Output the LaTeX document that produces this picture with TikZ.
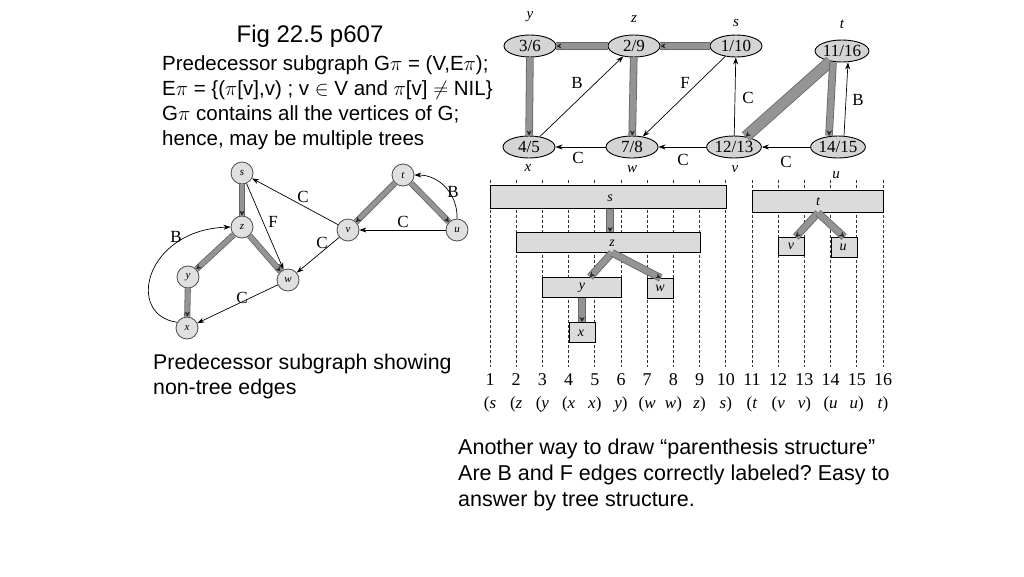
\documentclass[tikz,border=0pt]{standalone}
\usepackage{fontspec}
\setmainfont{Liberation Sans}
\newfontfamily\gs{Liberation Serif}
\usetikzlibrary{arrows.meta,shapes.geometric,calc}
\frenchspacing
\begin{document}
\begin{tikzpicture}[x=1pt,y=-1pt,
 txt/.style={anchor=base west, inner sep=0, font=\fontsize{20.5}{24}\selectfont},
 txtb/.style={anchor=base west, inner sep=0, font=\fontsize{21.5}{25}\selectfont},
 ell/.style={ellipse, draw=black, line width=0.9pt, fill=black!17, minimum width=52pt, minimum height=22pt, inner sep=0, font=\gs\fontsize{17}{17}\selectfont},
 vlab/.style={font=\gs\itshape\fontsize{15}{15}\selectfont, inner sep=0},
 elab/.style={font=\gs\fontsize{17}{17}\selectfont, inner sep=0},
 cir/.style={circle, draw=black!70, line width=0.8pt, fill=black!12, minimum size=22pt, inner sep=0, font=\gs\itshape\fontsize{11}{11}\selectfont},
 band/.style={draw=black!60, line width=0.8pt, double=black!42, double distance=#1},
 band/.default=6pt,
 bandtip/.style={draw=black!42, line width=0.3pt, -{Stealth[length=5pt,width=5pt,black!85]}},
 thin/.style={draw=black, line width=0.7pt, -{Stealth[length=7pt,width=5pt]}},
 bar/.style={draw=black, line width=0.8pt, fill=black!14, inner sep=0, anchor=north west},
 blab/.style={font=\gs\itshape\fontsize{14}{14}\selectfont, inner sep=0},
 gridline/.style={draw=black!80, line width=0.8pt, dash pattern=on 2.5pt off 2.5pt},
 num/.style={font=\gs\fontsize{18}{18}\selectfont, anchor=base, inner sep=0},
 par/.style={font=\gs\fontsize{17}{17}\selectfont, anchor=base, inner sep=0}]
\fill[white] (0,0) rectangle (1024,576);
\useasboundingbox (0,0) rectangle (1024,576);

% ---------- texts ----------
\node[anchor=base, inner sep=0, font=\fontsize{24}{28}\selectfont] (title) at (310,42) {Fig 22.5 p607};
\node[txt] (l1) at (162,70) {Predecessor subgraph G$\pi$ = (V,E$\pi$);};
\node[txt] (l2) at (162,95) {E$\pi$ = \{($\pi$[v],v) ; v $\in$ V and $\pi$[v] $\neq$ NIL\}};
\node[txt] (l3) at (162,120) {G$\pi$ contains all the vertices of G;};
\node[txt] (l4) at (162,145) {hence, may be multiple trees};
\node[txtb, font=\fontsize{21.3}{25}\selectfont] (p1) at (153,369) {Predecessor subgraph showing};
\node[txtb, font=\fontsize{21.3}{25}\selectfont] (p2) at (153,394) {non-tree edges};
\node[txtb] (a1) at (458,454) {Another way to draw “parenthesis structure”};
\node[txtb] (a2) at (458,480) {Are B and F edges correctly labeled? Easy to};
\node[txtb] (a3) at (458,506) {answer by tree structure.};

% ---------- top-right DFS graph ----------
\node[ell] (Y) at (530,46) {3/6};
\node[ell] (Z) at (634,46) {2/9};
\node[ell] (S) at (736,46) {1/10};
\node[ell] (T) at (842,51) {11/16};
\node[ell] (X) at (529,147) {4/5};
\node[ell] (W) at (632,147) {7/8};
\node[ell] (V) at (734,147) {12/13};
\node[ell] (U) at (838,147) {14/15};
\node[vlab] (Yl) at (530,17) {y};
\node[vlab] (Zl) at (634,19) {z};
\node[vlab] (Sl) at (736,23) {s};
\node[vlab] (Tl) at (842,24) {t};
\node[vlab] (Xl) at (528,168) {x};
\node[vlab] (Wl) at (632,169) {w};
\node[vlab] (Vl) at (735,169) {v};
\node[vlab] (Ul) at (836,175) {u};

\draw[band] (Z) -- (Y);  \draw[bandtip] (Z) -- (Y);
\draw[band] (S) -- (Z);  \draw[bandtip] (S) -- (Z);
\draw[band] (Y) -- (X);  \draw[bandtip] (Y) -- (X);
\draw[band] (Z) -- (W);  \draw[bandtip] (Z) -- (W);
\draw[band=10pt] (T) -- (V);  \draw[bandtip] (T) -- (V);
\draw[band] ([xshift=-9pt]T.south) -- ([xshift=-9pt]U.north);
\draw[bandtip] ([xshift=-9pt]T.south) -- ([xshift=-9pt]U.north);

\draw[thin] (X) -- (Z);
\draw[thin] (S) -- (W);
\draw[thin] (V) -- (S);
\draw[thin] ([xshift=6pt]U.north) -- ([xshift=6pt]T.south);
\draw[thin] (W) -- (X);
\draw[thin] (V) -- (W);
\draw[thin] (U) -- (V);
\node[elab] (eB1) at (577,83) {B};
\node[elab] (eF1) at (685,83) {F};
\node[elab] (eC1) at (748,98) {C};
\node[elab] (eB2) at (858,100) {B};
\node[elab] (eC2) at (578,158) {C};
\node[elab] (eC3) at (683,160) {C};
\node[elab] (eC4) at (786,162) {C};

% ---------- left predecessor subgraph ----------
\node[cir] (s) at (242,173) {s};
\node[cir] (z) at (242,227) {z};
\node[cir] (y) at (188,277) {y};
\node[cir] (x) at (187,328) {x};
\node[cir] (w) at (288,280) {w};
\node[cir] (v) at (348,230) {v};
\node[cir] (t) at (403,175) {t};
\node[cir] (u) at (457,230) {u};
\draw[band=4.5pt] (s) -- (z); \draw[bandtip] (s) -- (z);
\draw[band=4.5pt] (z) -- (y); \draw[bandtip] (z) -- (y);
\draw[band=4.5pt] (y) -- (x); \draw[bandtip] (y) -- (x);
\draw[band=4.5pt] (z) -- (w); \draw[bandtip] (z) -- (w);
\draw[band=4.5pt] (t) -- (v); \draw[bandtip] (t) -- (v);
\draw[band=4.5pt] (t) -- (u); \draw[bandtip] (t) -- (u);
\draw[thin] (v) -- (s);
\draw[thin] (s) -- (w);
\draw[thin] (u) -- (v);
\draw[thin] (v) -- (w);
\draw[thin] (w) -- (x);
\draw[thin] (x.150) .. controls (125,315) and (145,230) .. (z.west);
\draw[thin] (u.north) .. controls (458,195) and (440,175) .. (t.east);
\node[elab] (lC1) at (303,197) {C};
\node[elab] (lF) at (273,222) {F};
\node[elab] (lB1) at (176,237) {B};
\node[elab] (lC2) at (403,222) {C};
\node[elab] (lB2) at (453,192) {B};
\node[elab] (lC3) at (322,243) {C};
\node[elab] (lC4) at (242,298) {C};

% ---------- parenthesis structure ----------
\foreach \i in {1,...,16}
  \draw[gridline] ({490+26.2*(\i-1)},180) -- ({490+26.2*(\i-1)},367);
\node[bar, minimum width=235.8pt, minimum height=23pt] (sbar) at (490,185) {};
\node[bar, minimum width=183.4pt, minimum height=20pt] (zbar) at (516.2,232) {};
\node[bar, minimum width=78.6pt, minimum height=20pt] (ybar) at (542.4,277) {};
\node[bar, minimum width=26.2pt, minimum height=20pt] (wbar) at (647.2,278) {};
\node[bar, minimum width=26.2pt, minimum height=20pt] (xbar) at (568.6,322) {};
\node[bar, minimum width=131pt, minimum height=22pt] (tbar) at (752,190) {};
\node[bar, minimum width=26.2pt, minimum height=18pt] (vbar) at (778.2,237) {};
\node[bar, minimum width=26.2pt, minimum height=20pt] (ubar) at (830.6,237) {};
\node[blab] (slab) at (610,198) {s};
\node[blab] (zlab) at (612,243) {z};
\node[blab] (ylab) at (582,288) {y};
\node[blab] (wlab) at (660,288) {w};
\node[blab] (xlab) at (581,333) {x};
\node[blab] (tlab) at (818,202) {t};
\node[blab] (vlab) at (791,246) {v};
\node[blab] (ulab) at (843,247) {u};
\draw[band] (slab |- sbar.south) -- (slab |- zbar.north);
\draw[bandtip] (slab |- sbar.south) -- (slab |- zbar.north);
\draw[band] (zlab |- zbar.south) -- ($(ylab |- ybar.north)+(8,0)$);
\draw[bandtip] (zlab |- zbar.south) -- ($(ylab |- ybar.north)+(8,0)$);
\draw[band] (zlab |- zbar.south) -- (wbar.north);
\draw[bandtip] (zlab |- zbar.south) -- (wbar.north);
\draw[band] (ylab |- ybar.south) -- (ylab |- xbar.north);
\draw[bandtip] (ylab |- ybar.south) -- (ylab |- xbar.north);
\draw[band] (tlab |- tbar.south) -- ($(vbar.north)+(4,0)$);
\draw[bandtip] (tlab |- tbar.south) -- ($(vbar.north)+(4,0)$);
\draw[band] (tlab |- tbar.south) -- (ubar.north);
\draw[bandtip] (tlab |- tbar.south) -- (ubar.north);

\foreach \i in {1,...,16}
  \node[num] (n\i) at ({490+26.2*(\i-1)},385) {\i};
\node[par] (q1) at (490,408) {(\textit{s}};
\node[par] (q2) at (516.2,408) {(\textit{z}};
\node[par] (q3) at (542.4,408) {(\textit{y}};
\node[par] (q4) at (568.6,408) {(\textit{x}};
\node[par] (q5) at (594.8,408) {\textit{x})};
\node[par] (q6) at (621,408) {\textit{y})};
\node[par] (q7) at (647.2,408) {(\textit{w}};
\node[par] (q8) at (673.4,408) {\textit{w})};
\node[par] (q9) at (699.6,408) {\textit{z})};
\node[par] (q10) at (725.8,408) {\textit{s})};
\node[par] (q11) at (752,408) {(\textit{t}};
\node[par] (q12) at (778.2,408) {(\textit{v}};
\node[par] (q13) at (804.4,408) {\textit{v})};
\node[par] (q14) at (830.6,408) {(\textit{u}};
\node[par] (q15) at (856.8,408) {\textit{u})};
\node[par] (q16) at (883,408) {\textit{t})};
\end{tikzpicture}
\end{document}
